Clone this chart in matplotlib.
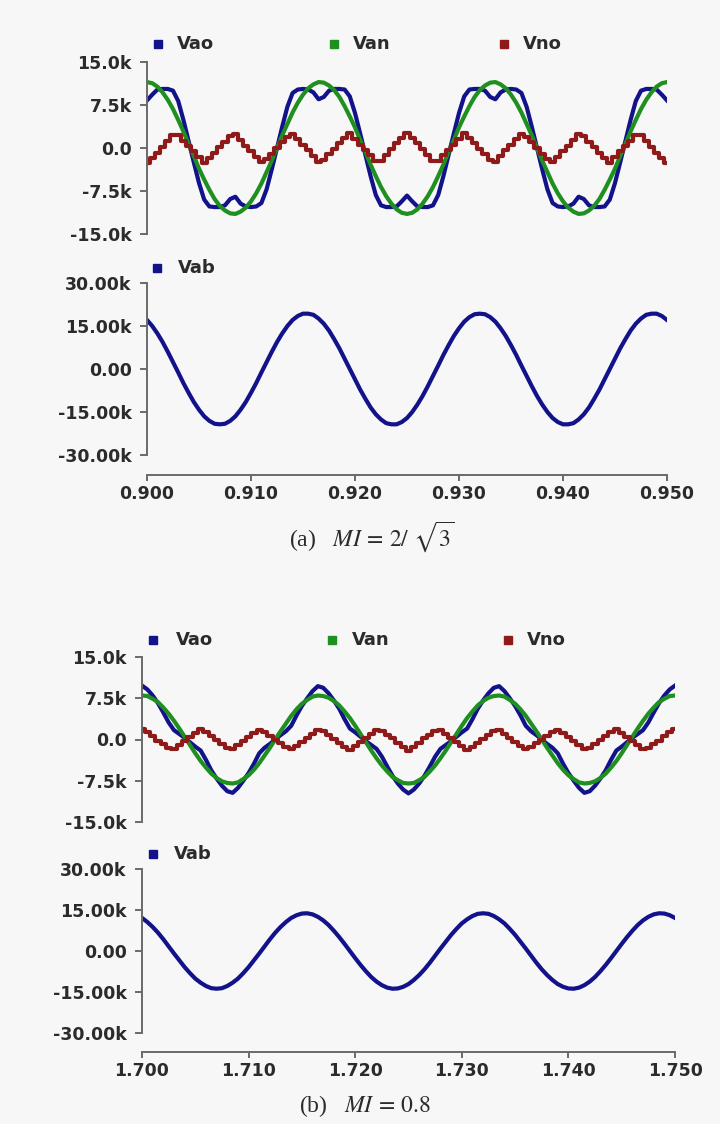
import numpy as np
import matplotlib.pyplot as plt
from matplotlib.lines import Line2D

# sampled waveforms, values in kV, one sample every 0.5 ms
t_a = np.linspace(0.900, 0.950, 101)
t_b = np.linspace(1.700, 1.750, 101)

vao_a = [8.3, 9.3, 10.2, 10.3, 10.3, 10.0, 8.2, 4.9, 1.2, -2.5, -6.1, -9.0, -10.2, -10.3, -10.3, -10.0, -8.9,
         -8.5, -9.7, -10.2, -10.3, -10.2, -9.6, -7.2, -3.7, 0.0, 3.7, 7.2, 9.6, 10.2, 10.3, 10.2, 9.7, 8.5,
         8.9, 10.0, 10.3, 10.3, 10.2, 9.0, 6.1, 2.5, -1.2, -4.9, -8.2, -10.0, -10.3, -10.3, -10.2, -9.3, -8.3,
         -9.3, -10.2, -10.3, -10.3, -10.0, -8.2, -4.9, -1.2, 2.5, 6.1, 9.0, 10.2, 10.3, 10.3, 10.0, 8.9,
         8.5, 9.7, 10.2, 10.3, 10.2, 9.6, 7.2, 3.7, 0.0, -3.7, -7.2, -9.6, -10.2, -10.3, -10.2, -9.7, -8.5,
         -8.9, -10.0, -10.3, -10.3, -10.2, -9.0, -6.1, -2.5, 1.2, 4.9, 8.2, 10.0, 10.3, 10.3, 10.2, 9.3, 8.3]
van_a = [11.5, 11.3, 10.7, 9.7, 8.4, 6.8, 4.9, 2.9, 0.7, -1.4, -3.6, -5.5, -7.3, -8.9, -10.1, -10.9, -11.4,
         -11.5, -11.1, -10.4, -9.3, -7.9, -6.2, -4.2, -2.2, 0.0, 2.2, 4.2, 6.2, 7.9, 9.3, 10.4, 11.1, 11.5,
         11.4, 10.9, 10.1, 8.9, 7.3, 5.5, 3.6, 1.4, -0.7, -2.9, -4.9, -6.8, -8.4, -9.7, -10.7, -11.3, -11.5,
         -11.3, -10.7, -9.7, -8.4, -6.8, -4.9, -2.9, -0.7, 1.4, 3.6, 5.5, 7.3, 8.9, 10.1, 10.9, 11.4,
         11.5, 11.1, 10.4, 9.3, 7.9, 6.2, 4.2, 2.2, 0.0, -2.2, -4.2, -6.2, -7.9, -9.3, -10.4, -11.1, -11.5,
         -11.4, -10.9, -10.1, -8.9, -7.3, -5.5, -3.6, -1.4, 0.7, 2.9, 4.9, 6.8, 8.4, 9.7, 10.7, 11.3, 11.5]
vno_a = [-2.7, -1.7, -0.8, 0.2, 1.2, 2.2, 2.3, 1.3, 0.3, -0.6, -1.6, -2.6, -1.8, -0.9, 0.1, 1.1, 2.1,
         2.4, 1.4, 0.4, -0.5, -1.5, -2.5, -1.9, -1.0, 0.0, 1.0, 1.9, 2.5, 1.5, 0.5, -0.4, -1.4, -2.4,
         -2.1, -1.1, -0.1, 0.9, 1.8, 2.6, 1.6, 0.6, -0.3, -1.3, -2.3, -2.2, -1.2, -0.2, 0.8, 1.7, 2.7,
         1.7, 0.8, -0.2, -1.2, -2.2, -2.3, -1.3, -0.3, 0.6, 1.6, 2.6, 1.8, 0.9, -0.1, -1.1, -2.1,
         -2.4, -1.4, -0.4, 0.5, 1.5, 2.5, 1.9, 1.0, 0.0, -1.0, -1.9, -2.5, -1.5, -0.5, 0.4, 1.4, 2.4,
         2.1, 1.1, 0.1, -0.9, -1.8, -2.6, -1.6, -0.6, 0.3, 1.3, 2.3, 2.2, 1.2, 0.2, -0.8, -1.7, -2.7]
vab_a = [17.1, 15.0, 12.4, 9.4, 6.0, 2.4, -1.2, -4.9, -8.3, -11.5, -14.2, -16.5, -18.1, -19.1, -19.3, -19.1, -18.1,
         -16.5, -14.2, -11.5, -8.3, -4.9, -1.2, 2.4, 6.0, 9.4, 12.4, 15.0, 17.1, 18.5, 19.3, 19.3, 18.9, 17.6,
         15.8, 13.4, 10.4, 7.2, 3.6, 0.0, -3.6, -7.2, -10.4, -13.4, -15.8, -17.6, -18.9, -19.3, -19.3, -18.5, -17.1,
         -15.0, -12.4, -9.4, -6.0, -2.4, 1.2, 4.9, 8.3, 11.5, 14.2, 16.5, 18.1, 19.1, 19.3, 19.1, 18.1,
         16.5, 14.2, 11.5, 8.3, 4.9, 1.2, -2.4, -6.0, -9.4, -12.4, -15.0, -17.1, -18.5, -19.3, -19.3, -18.9, -17.6,
         -15.8, -13.4, -10.4, -7.2, -3.6, 0.0, 3.6, 7.2, 10.4, 13.4, 15.8, 17.6, 18.9, 19.3, 19.3, 18.5, 17.1]

vao_b = [9.8, 9.1, 8.0, 6.6, 4.9, 3.1, 1.7, 1.0, 0.3, -0.5, -1.3, -2.0, -3.7, -5.6, -7.1, -8.4, -9.4,
         -9.7, -8.8, -7.5, -6.1, -4.4, -2.5, -1.5, -0.8, 0.0, 0.8, 1.5, 2.5, 4.4, 6.1, 7.5, 8.8, 9.7,
         9.4, 8.4, 7.1, 5.6, 3.7, 2.0, 1.3, 0.5, -0.3, -1.0, -1.7, -3.1, -4.9, -6.6, -8.0, -9.1, -9.8,
         -9.1, -8.0, -6.6, -4.9, -3.1, -1.7, -1.0, -0.3, 0.5, 1.3, 2.0, 3.7, 5.6, 7.1, 8.4, 9.4,
         9.7, 8.8, 7.5, 6.1, 4.4, 2.5, 1.5, 0.8, 0.0, -0.8, -1.5, -2.5, -4.4, -6.1, -7.5, -8.8, -9.7,
         -9.4, -8.4, -7.1, -5.6, -3.7, -2.0, -1.3, -0.5, 0.3, 1.0, 1.7, 3.1, 4.9, 6.6, 8.0, 9.1, 9.8]
van_b = [8.0, 7.9, 7.4, 6.8, 5.8, 4.7, 3.4, 2.0, 0.5, -1.0, -2.5, -3.9, -5.1, -6.2, -7.0, -7.6, -7.9,
         -8.0, -7.8, -7.2, -6.5, -5.5, -4.3, -2.9, -1.5, 0.0, 1.5, 2.9, 4.3, 5.5, 6.5, 7.2, 7.8, 8.0,
         7.9, 7.6, 7.0, 6.2, 5.1, 3.9, 2.5, 1.0, -0.5, -2.0, -3.4, -4.7, -5.8, -6.8, -7.4, -7.9, -8.0,
         -7.9, -7.4, -6.8, -5.8, -4.7, -3.4, -2.0, -0.5, 1.0, 2.5, 3.9, 5.1, 6.2, 7.0, 7.6, 7.9,
         8.0, 7.8, 7.2, 6.5, 5.5, 4.3, 2.9, 1.5, 0.0, -1.5, -2.9, -4.3, -5.5, -6.5, -7.2, -7.8, -8.0,
         -7.9, -7.6, -7.0, -6.2, -5.1, -3.9, -2.5, -1.0, 0.5, 2.0, 3.4, 4.7, 5.8, 6.8, 7.4, 7.9, 8.0]
vno_b = [2.0, 1.3, 0.6, -0.2, -0.9, -1.6, -1.7, -1.0, -0.2, 0.5, 1.2, 1.9, 1.4, 0.6, -0.1, -0.8, -1.5,
         -1.8, -1.0, -0.3, 0.4, 1.1, 1.8, 1.4, 0.7, 0.0, -0.7, -1.4, -1.8, -1.1, -0.4, 0.3, 1.0, 1.8,
         1.5, 0.8, 0.1, -0.6, -1.4, -1.9, -1.2, -0.5, 0.2, 1.0, 1.7, 1.6, 0.9, 0.2, -0.6, -1.3, -2.0,
         -1.3, -0.6, 0.2, 0.9, 1.6, 1.7, 1.0, 0.2, -0.5, -1.2, -1.9, -1.4, -0.6, 0.1, 0.8, 1.5,
         1.8, 1.0, 0.3, -0.4, -1.1, -1.8, -1.4, -0.7, 0.0, 0.7, 1.4, 1.8, 1.1, 0.4, -0.3, -1.0, -1.8,
         -1.5, -0.8, -0.1, 0.6, 1.4, 1.9, 1.2, 0.5, -0.2, -1.0, -1.7, -1.6, -0.9, -0.2, 0.6, 1.3, 2.0]
vab_b = [12.1, 10.6, 8.8, 6.7, 4.3, 1.7, -0.9, -3.4, -5.9, -8.1, -10.1, -11.6, -12.8, -13.6, -13.8, -13.6, -12.8,
         -11.6, -10.1, -8.1, -5.9, -3.4, -0.9, 1.7, 4.3, 6.7, 8.8, 10.6, 12.1, 13.1, 13.7, 13.8, 13.4, 12.5,
         11.2, 9.5, 7.4, 5.1, 2.6, 0.0, -2.6, -5.1, -7.4, -9.5, -11.2, -12.5, -13.4, -13.8, -13.7, -13.1, -12.1,
         -10.6, -8.8, -6.7, -4.3, -1.7, 0.9, 3.4, 5.9, 8.1, 10.1, 11.6, 12.8, 13.6, 13.8, 13.6, 12.8,
         11.6, 10.1, 8.1, 5.9, 3.4, 0.9, -1.7, -4.3, -6.7, -8.8, -10.6, -12.1, -13.1, -13.7, -13.8, -13.4, -12.5,
         -11.2, -9.5, -7.4, -5.1, -2.6, 0.0, 2.6, 5.1, 7.4, 9.5, 11.2, 12.5, 13.4, 13.8, 13.7, 13.1, 12.1]

phase_ticks = [-15.0, -7.5, 0.0, 7.5, 15.0]
phase_labels = ['-15.0k', '-7.5k', '0.0', '7.5k', '15.0k']
line_ticks = [-30.0, -15.0, 0.0, 15.0, 30.0]
line_labels = ['-30.00k', '-15.00k', '0.00', '15.00k', '30.00k']
time_ticks_a = [0.900, 0.910, 0.920, 0.930, 0.940, 0.950]
time_ticks_b = [1.700, 1.710, 1.720, 1.730, 1.740, 1.750]

BLUE = '#12128a'
GREEN = '#1f8f1f'
RED = '#8e1a1a'
AXIS = '#6a6a6a'
TEXT = '#2b2b2b'
BG = '#f7f7f7'

W, H = 720, 1124
plt.rcParams['font.family'] = 'DejaVu Sans'
plt.rcParams['mathtext.fontset'] = 'stix'

fig = plt.figure(figsize=(W / 100, H / 100), dpi=100, facecolor=BG)

TICK_FS = 12.5


def px_axes(x0, x1, ytop, ybot):
    ax = fig.add_axes([x0 / W, 1 - ybot / H, (x1 - x0) / W, (ybot - ytop) / H])
    ax.set_facecolor('none')
    for s in ['top', 'right']:
        ax.spines[s].set_visible(False)
    ax.spines['left'].set_color(AXIS)
    ax.spines['left'].set_linewidth(1.4)
    ax.tick_params(axis='y', direction='out', length=5, width=1.4, color=AXIS, pad=6,
                   labelsize=TICK_FS, labelcolor=TEXT)
    return ax


def yaxis(ax, ticks, labels):
    ax.set_ylim(ticks[0], ticks[-1])
    ax.set_yticks(ticks)
    ax.set_yticklabels(labels, fontweight='bold')


def no_xaxis(ax):
    ax.spines['bottom'].set_visible(False)
    ax.set_xticks([])


def xaxis(ax, ticks, offset):
    ax.spines['bottom'].set_position(('outward', offset))
    ax.spines['bottom'].set_color(AXIS)
    ax.spines['bottom'].set_linewidth(1.4)
    ax.set_xticks(ticks)
    ax.set_xticklabels(['%.3f' % v for v in ticks], fontweight='bold')
    ax.tick_params(axis='x', direction='out', length=4, width=1.4, color=AXIS, pad=3,
                   labelsize=TICK_FS, labelcolor=TEXT)


def key(x, y, color, label, tx):
    fig.add_artist(Line2D([x / W], [1 - y / H], marker='s', markersize=6, color=color,
                          linestyle='none', transform=fig.transFigure))
    fig.text(tx / W, 1 - y / H, label, ha='left', va='center', fontsize=13,
             fontweight='bold', color=TEXT)


LW = 3.0

# (a) MI = 2/sqrt(3)
ax1 = px_axes(147, 667, 62, 234)
ax1.plot(t_a, vao_a, color=BLUE, lw=LW)
ax1.plot(t_a, van_a, color=GREEN, lw=LW)
ax1.plot(t_a, vno_a, color=RED, lw=LW, drawstyle='steps-mid')
ax1.set_xlim(time_ticks_a[0], time_ticks_a[-1])
yaxis(ax1, phase_ticks, phase_labels)
no_xaxis(ax1)

ax2 = px_axes(147, 667, 283, 455)
ax2.plot(t_a, vab_a, color=BLUE, lw=LW)
ax2.set_xlim(time_ticks_a[0], time_ticks_a[-1])
yaxis(ax2, line_ticks, line_labels)
xaxis(ax2, time_ticks_a, 14.5)

key(158, 44, BLUE, 'Vao', 177)
key(334, 44, GREEN, 'Van', 353)
key(504, 44, RED, 'Vno', 523)
key(157, 268, BLUE, 'Vab', 178)
fig.text(372 / W, 1 - 537 / H, r'(a)   $MI\,=\,2/\ \sqrt{3}$', ha='center', va='center',
         fontsize=17, family='Liberation Serif', color=TEXT)

# (b) MI = 0.8
ax3 = px_axes(142, 675, 657, 822)
ax3.plot(t_b, vao_b, color=BLUE, lw=LW)
ax3.plot(t_b, van_b, color=GREEN, lw=LW)
ax3.plot(t_b, vno_b, color=RED, lw=LW, drawstyle='steps-mid')
ax3.set_xlim(time_ticks_b[0], time_ticks_b[-1])
yaxis(ax3, phase_ticks, phase_labels)
no_xaxis(ax3)

ax4 = px_axes(142, 675, 869, 1033)
ax4.plot(t_b, vab_b, color=BLUE, lw=LW)
ax4.set_xlim(time_ticks_b[0], time_ticks_b[-1])
yaxis(ax4, line_ticks, line_labels)
xaxis(ax4, time_ticks_b, 14)

key(153, 640, BLUE, 'Vao', 176)
key(332, 640, GREEN, 'Van', 352)
key(508, 640, RED, 'Vno', 527)
key(153, 854, BLUE, 'Vab', 174)
fig.text(365 / W, 1 - 1106 / H, r'(b)   $MI\,=\,0.8$', ha='center', va='center',
         fontsize=17, family='Liberation Serif', color=TEXT)

fig.savefig('out.png', dpi=100, facecolor=BG)
